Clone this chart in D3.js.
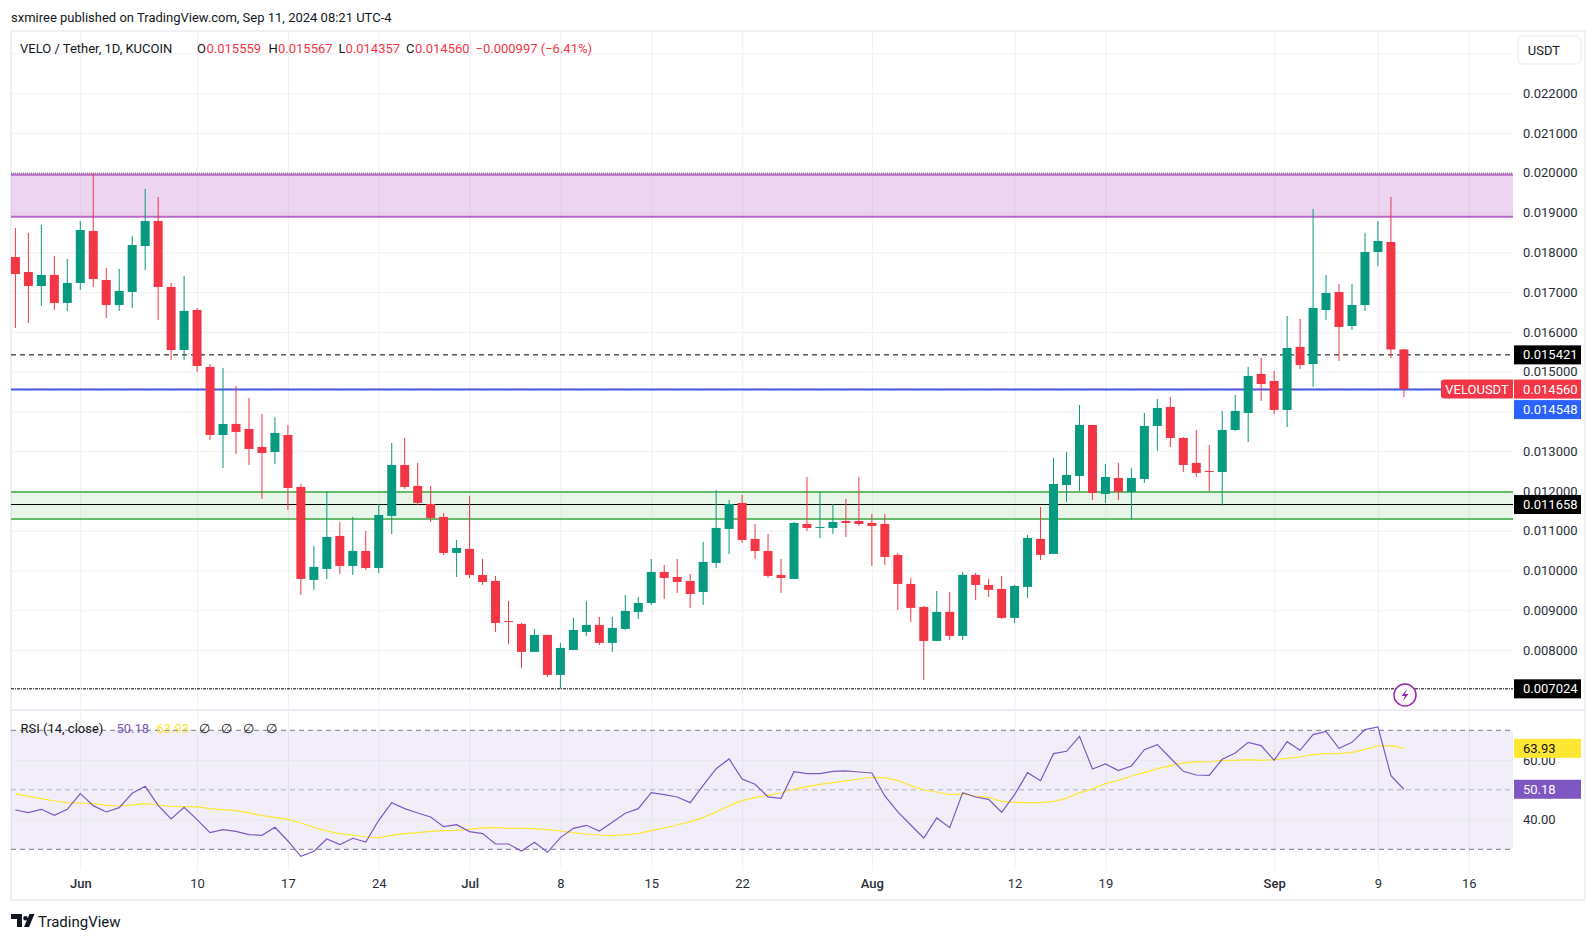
<!DOCTYPE html>
<html>
<head>
<meta charset="utf-8">
<script src="https://cdn.jsdelivr.net/npm/d3@7"></script>
<style>
html, body { margin: 0; padding: 0; background: #fff; }
svg { display: block; }
text { font-family: Roboto, "Noto Sans", sans-serif; }
</style>
</head>
<body>
<script>
// prices are in millionths of USDT, one entry per day from May 27 2024
var opens = [17882,17505,17153,17430,16726,17229,18536,17304,16676,17003,18159,18787,17128,15544,16550,15117,13407,13684,13558,13105,
    12980,13407,12100,9762,10038,10868,10114,10491,10063,11371,12653,12125,11672,11346,10441,10541,9887,9737,8731,8656,
    7952,8379,7373,8002,8454,8630,8178,8530,8957,9183,9962,9837,9736,9460,10189,11044,11697,10792,10490,9887,
    9787,11169,11069,11069,11245,11245,11194,11170,10390,9661,9083,8228,8958,8354,9888,9636,9536,8807,9586,10793,
    10416,12150,12377,13659,11924,12326,11974,12301,13634,14111,13332,12703,12502,12477,13533,13960,14941,14765,14036,15620,
    15192,16550,17002,16147,16675,18008,18259,15559];
var highs = [18611,18486,18687,17908,17832,18787,19986,17606,17581,18410,19592,19391,17229,17405,16600,15192,15092,14639,14338,13935,
    13860,13659,12175,10617,11999,11220,11346,10994,11672,13206,13332,12703,12125,11446,10767,11874,10290,9862,9234,8681,
    8530,8379,8178,8806,9233,8831,8831,9384,9334,10289,10138,10289,9912,10717,12024,11773,11898,11169,10918,10289,
    11219,12351,11974,11672,11798,12351,11421,11421,10441,9812,9108,9485,9460,9963,9938,9787,9863,9636,10893,11597,
    12829,12980,14161,13659,12678,12703,12578,13960,14312,14363,13357,13533,13156,14011,14413,15117,15343,15016,16399,16324,
    19089,17430,17203,17203,18486,18787,19391,15567];
var lows = [16097,16223,16651,16550,16525,17053,17128,16349,16525,16600,17556,16299,15293,15293,14991,13281,12577,12929,12653,11798,
    12678,11522,9385,9510,9787,9913,9887,10013,9938,10918,12050,11647,11220,10390,9837,9812,9636,8455,8153,7549,
    7952,7323,7024,8002,8354,8127,7951,8504,8781,9133,9284,9435,9057,9133,10063,10415,10692,10289,9812,9435,
    9787,10993,10817,10918,10842,11119,10113,10139,9008,8706,7248,8228,8254,8254,9259,9335,8781,8681,9310,10265,
    10416,11723,12000,11773,11698,11773,11270,12201,13005,13106,12477,12351,11999,11630,13508,13231,14262,13935,13608,15066,
    14614,16298,15268,16047,16525,17656,15343,14357];
var closes = [17455,17153,17430,16726,17229,18561,17329,16676,17028,18184,18787,17128,15544,16525,15142,13407,13684,13483,13055,12955,
    13457,12075,9787,10089,10843,10114,10491,10063,11396,12653,12100,11698,11320,10441,10566,9887,9711,8681,8706,7952,
    8379,7374,8052,8504,8630,8178,8555,8982,9183,9962,9812,9711,9409,10214,11069,11672,10767,10490,9862,9812,
    11194,11069,11094,11219,11194,11169,11119,10340,9661,9058,8228,8958,8354,9888,9636,9511,8807,9611,10818,10391,
    12175,12402,13659,11949,12351,11974,12326,13634,14086,13332,12653,12452,12486,13533,14011,14891,14689,14036,15594,15167,
    16600,16977,16122,16675,18008,18284,15557,14560];

var rsi = [43.22,42.32,43.44,41.43,43.44,48.71,44.68,42.55,44.00,48.82,51.17,44.79,40.19,44.12,39.97,35.60,36.61,36.05,34.93,34.70,
    37.39,32.80,27.65,29.33,33.47,31.57,33.70,32.46,39.75,45.68,43.67,42.21,40.87,37.62,38.29,35.94,35.26,31.79,31.79,29.44,
    32.35,28.99,33.92,37.06,38.07,36.16,39.07,42.10,43.67,49.04,48.37,47.59,45.68,51.51,57.11,60.36,53.64,51.85,47.59,47.14,
    56.10,55.43,55.43,56.22,56.33,55.99,55.66,47.92,42.55,38.18,33.81,40.53,37.28,49.04,47.59,46.80,42.44,48.37,55.77,53.08,
    62.15,62.94,67.98,57.00,58.68,56.44,58.01,63.50,65.18,60.70,56.22,54.98,54.87,60.25,62.38,65.96,64.84,59.91,66.19,63.27,
    68.54,69.66,63.95,65.96,70.22,71.12,54.76,50.18];
var rsiMa = [48.60,47.81,47.03,46.24,45.68,45.57,45.35,44.79,44.56,44.90,45.35,44.90,44.45,44.34,44.23,43.67,43.33,43.00,42.32,41.31,
    40.75,40.08,38.85,37.39,36.16,35.26,34.81,34.14,33.92,34.70,35.26,35.60,36.05,36.27,36.39,36.72,37.17,37.28,37.06,37.06,
    36.95,36.61,36.16,35.60,35.15,34.81,34.59,34.93,35.26,36.27,37.17,38.18,39.30,40.75,42.55,44.68,46.36,47.48,48.15,48.93,
    50.17,51.06,51.85,52.41,52.97,53.64,54.20,54.09,53.08,51.40,49.94,49.27,48.37,48.60,47.92,47.48,46.13,45.80,45.68,45.68,
    46.13,47.14,49.04,50.28,52.07,53.19,54.65,55.77,57.11,58.12,59.02,59.46,59.35,59.91,59.91,60.14,59.91,60.14,60.59,61.03,
    61.82,62.15,62.15,62.60,63.61,64.73,64.84,63.93];

var priceTicks = [8000,9000,10000,11000,12000,13000,14000,15000,16000,17000,18000,19000,20000,21000,22000];
var priceGrid = [8000,9000,10000,11000,12000,13000,14000,15000,16000,17000,18000,19000,20000,21000,22000,23000];
var rsiTicks = [40,60];
var timeTicks = ["2024-06-01","2024-06-10","2024-06-17","2024-06-24","2024-07-01","2024-07-08","2024-07-15","2024-07-22",
    "2024-08-01","2024-08-12","2024-08-19","2024-09-01","2024-09-09","2024-09-16"];
var timeLabels = ["Jun","10","17","24","Jul","8","15","22","Aug","12","19","Sep","9","16"];

var purpleZone = [18896, 19952];
var greenZone = [11295, 11974];
var lastClose = 14560, blueLevel = 14548, dashedLevel = 15421, supportLevel = 11658, lowLevel = 7024;

var red = "#F23645", green = "#089981";
var grid = "#F0F0F4", textColor = "#2a2e39";

var left = 11, right = 1513, frameRight = 1585, top_ = 31, paneBottom = 710, rsiBottom = 870, frameBottom = 900;

var dates = d3.utcDay.range(new Date("2024-05-27"), new Date("2024-09-12"));
var tickDates = timeTicks.map(function(d) { return new Date(d); });

var x = d3.scaleUtc()
    .domain([dates[0], dates[dates.length - 1]])
    .range([15.4, 1403.9]);

var y = d3.scaleLinear()
    .domain([8000, 18000])
    .range([650, 252.3]);

var yRsi = d3.scaleLinear()
    .domain([30, 70])
    .range([849.3, 730.3]);

var fmtPrice = function(d) { return (d / 1e6).toFixed(6); };

var svg = d3.select("body").append("svg")
    .attr("width", 1596)
    .attr("height", 941);

svg.append("rect").attr("width", 1596).attr("height", 941).attr("fill", "#fff");

// frame and pane separator
svg.append("rect")
    .attr("x", left).attr("y", top_)
    .attr("width", frameRight - left).attr("height", frameBottom - top_)
    .attr("fill", "none").attr("stroke", "#F0F0F6").attr("stroke-width", 2);
svg.append("line")
    .attr("x1", left).attr("x2", frameRight)
    .attr("y1", paneBottom).attr("y2", paneBottom)
    .attr("stroke", "#E6E3EE").attr("stroke-width", 1.5);

// grid
var gridX = d3.axisBottom(x).tickValues(tickDates).tickSize(rsiBottom - top_).tickFormat("");
svg.append("g").attr("transform", "translate(0," + top_ + ")").call(gridX)
    .call(function(g) { g.select(".domain").remove(); })
    .selectAll("line").attr("stroke", grid);

var gridY = d3.axisRight(y).tickValues(priceGrid).tickSize(right - left).tickFormat("");
svg.append("g").attr("transform", "translate(" + left + ",0)").call(gridY)
    .call(function(g) { g.select(".domain").remove(); })
    .selectAll("line").attr("stroke", grid);

// purple and green zones
function zone(vals, fill, stroke) {
    svg.append("rect")
        .attr("x", left).attr("width", right - left)
        .attr("y", y(vals[1])).attr("height", y(vals[0]) - y(vals[1]))
        .attr("fill", fill);
    vals.forEach(function(v) {
        svg.append("line")
            .attr("x1", left).attr("x2", right)
            .attr("y1", y(v)).attr("y2", y(v))
            .attr("stroke", stroke).attr("stroke-width", 2);
    });
}
zone(purpleZone, "rgba(186,104,200,0.28)", "#BA68C8");
zone(greenZone, "rgba(102,187,106,0.15)", "#66BB6A");

svg.append("line")
    .attr("x1", left).attr("x2", right)
    .attr("y1", y(purpleZone[1]) - 1.5).attr("y2", y(purpleZone[1]) - 1.5)
    .attr("stroke", "#555").attr("stroke-dasharray", "1,1");

// horizontal levels
function level(v, dash) {
    svg.append("line")
        .attr("x1", left).attr("x2", right)
        .attr("y1", y(v)).attr("y2", y(v))
        .attr("stroke", "#000")
        .attr("stroke-dasharray", dash)
        .attr("stroke-width", 1);
}
level(dashedLevel, "5,4");
level(supportLevel, null);
level(lowLevel, "3,1,1,1");

svg.append("line")
    .attr("x1", left).attr("x2", 1441)
    .attr("y1", y(blueLevel)).attr("y2", y(blueLevel))
    .attr("stroke", "#2962FF").attr("stroke-width", 2);
svg.append("line")
    .attr("x1", left).attr("x2", 1441)
    .attr("y1", y(lastClose)).attr("y2", y(lastClose))
    .attr("stroke", red).attr("stroke-dasharray", "1,2");

// candles
var candles = svg.append("g").selectAll("g")
    .data(dates)
    .enter().append("g");

candles.append("line")
    .attr("x1", function(d) { return x(d); })
    .attr("x2", function(d) { return x(d); })
    .attr("y1", function(d, i) { return y(highs[i]); })
    .attr("y2", function(d, i) { return y(lows[i]); })
    .attr("stroke", function(d, i) { return closes[i] >= opens[i] ? green : red; })
    .attr("stroke-width", 1);

candles.append("rect")
    .attr("x", function(d) { return x(d) - 4.5; })
    .attr("width", 9)
    .attr("y", function(d, i) { return y(Math.max(opens[i], closes[i])); })
    .attr("height", function(d, i) { return Math.max(1, Math.abs(y(opens[i]) - y(closes[i]))); })
    .attr("fill", function(d, i) { return closes[i] >= opens[i] ? green : red; });

// price axis
var axisY = d3.axisRight(y).tickValues(priceTicks).tickSize(0).tickPadding(0).tickFormat(fmtPrice);
svg.append("g").attr("transform", "translate(1523,0)").call(axisY)
    .call(function(g) { g.select(".domain").remove(); })
    .selectAll("text")
    .attr("font-family", "Roboto").attr("font-size", 13).attr("fill", textColor);

function priceLabel(v, scale, bg, fg, txt) {
    var yy = scale(v);
    svg.append("rect")
        .attr("x", 1514).attr("y", yy - 9.5)
        .attr("width", 67).attr("height", 19)
        .attr("fill", bg);
    svg.append("text")
        .attr("x", 1523).attr("y", yy + 4.5)
        .attr("font-size", 13).attr("fill", fg)
        .text(txt);
}
priceLabel(dashedLevel, y, "#000", "#fff", fmtPrice(dashedLevel));
priceLabel(supportLevel, y, "#000", "#fff", fmtPrice(supportLevel));
priceLabel(lowLevel, y, "#000", "#fff", fmtPrice(lowLevel));
priceLabel(blueLevel, function(v) { return y(v) + 20; }, "#2962FF", "#fff", fmtPrice(blueLevel));
priceLabel(lastClose, y, red, "#fff", fmtPrice(lastClose));

svg.append("path")
    .attr("d", "M1513," + (y(lastClose) - 9.5) + "H1444a3,3 0 0 0 -3,3V" + (y(lastClose) + 6.5) + "a3,3 0 0 0 3,3H1513Z")
    .attr("fill", red);
svg.append("text")
    .attr("x", 1477).attr("y", y(lastClose) + 4.5)
    .attr("text-anchor", "middle")
    .attr("font-size", 13).attr("fill", "#fff")
    .text("VELOUSDT");

// USDT box
svg.append("rect")
    .attr("x", 1518).attr("y", 36).attr("width", 63).attr("height", 28).attr("rx", 5)
    .attr("fill", "#fff").attr("stroke", "#F0F0F6").attr("stroke-width", 1.5);
svg.append("text")
    .attr("x", 1544).attr("y", 54.5).attr("text-anchor", "middle")
    .attr("font-size", 13).attr("fill", "#131722").text("USDT");

// lightning marker
svg.append("circle")
    .attr("cx", 1405).attr("cy", 695).attr("r", 11)
    .attr("fill", "#fff").attr("stroke", "#9C27B0").attr("stroke-width", 1.5);
svg.append("path")
    .attr("d", "M1407,689L1401.5,696H1405L1403,701L1408.5,694H1405Z")
    .attr("fill", "#9C27B0");

// rsi pane
svg.append("rect")
    .attr("x", left).attr("width", right - left)
    .attr("y", yRsi(70)).attr("height", yRsi(30) - yRsi(70))
    .attr("fill", "rgba(126,87,194,0.1)");

var gridRsi = d3.axisRight(yRsi).tickValues(rsiTicks).tickSize(right - left).tickFormat("");
svg.append("g").attr("transform", "translate(" + left + ",0)").call(gridRsi)
    .call(function(g) { g.select(".domain").remove(); })
    .selectAll("line").attr("stroke", "#E8E6F0");

[[70, "#787B86"], [50, "#B0AEBB"], [30, "#787B86"]].forEach(function(b) {
    svg.append("line")
        .attr("x1", left).attr("x2", right)
        .attr("y1", yRsi(b[0])).attr("y2", yRsi(b[0]))
        .attr("stroke", b[1]).attr("stroke-dasharray", "5,4");
});

var lineRsi = d3.line()
    .x(function(d, i) { return x(dates[i]); })
    .y(function(d) { return yRsi(d); });

svg.append("path").datum(rsiMa).attr("d", lineRsi)
    .attr("fill", "none").attr("stroke", "#FDE732").attr("stroke-width", 1.2);
svg.append("path").datum(rsi).attr("d", lineRsi)
    .attr("fill", "none").attr("stroke", "#7E57C2").attr("stroke-width", 1.2);

var axisRsi = d3.axisRight(yRsi).tickValues(rsiTicks).tickSize(0).tickPadding(0)
    .tickFormat(function(d) { return d.toFixed(2); });
svg.append("g").attr("transform", "translate(1523,0)").call(axisRsi)
    .call(function(g) { g.select(".domain").remove(); })
    .selectAll("text")
    .attr("font-family", "Roboto").attr("font-size", 13).attr("fill", textColor);

priceLabel(rsiMa[rsiMa.length - 1], yRsi, "#FDE732", "#131722", rsiMa[rsiMa.length - 1].toFixed(2));
priceLabel(rsi[rsi.length - 1], yRsi, "#7E57C2", "#fff", rsi[rsi.length - 1].toFixed(2));

// time axis
var axisX = d3.axisBottom(x).tickValues(tickDates).tickSize(0).tickPadding(0)
    .tickFormat(function(d, i) { return timeLabels[i]; });
svg.append("g").attr("transform", "translate(0,879)").call(axisX)
    .call(function(g) { g.select(".domain").remove(); })
    .selectAll("text")
    .attr("font-family", "Roboto").attr("font-size", 13).attr("fill", textColor)
    .attr("font-weight", function(d, i) { return isNaN(+timeLabels[i]) ? 500 : 400; });

// titles and legends
function label(xx, yy, txt, color, size) {
    svg.append("text")
        .attr("x", xx).attr("y", yy)
        .attr("font-size", size || 13)
        .attr("fill", color)
        .text(txt);
}
label(11, 22, "sxmiree published on TradingView.com, Sep 11, 2024 08:21 UTC-4", "#131722", 13);
label(20, 53, "VELO / Tether, 1D, KUCOIN", "#131722", 13);
label(197, 53, "O", "#131722");
label(206.5, 53, fmtPrice(opens[opens.length - 1]), red);
label(268.5, 53, "H", "#131722");
label(278, 53, fmtPrice(highs[highs.length - 1]), red);
label(338.5, 53, "L", "#131722");
label(345.5, 53, fmtPrice(lows[lows.length - 1]), red);
label(406, 53, "C", "#131722");
label(415, 53, fmtPrice(closes[closes.length - 1]), red);
label(475.5, 53, "\u22120.000997 (\u22126.41%)", red);

label(20.5, 733, "RSI (14, close)", "#131722");
label(116.5, 733, rsi[rsi.length - 1].toFixed(2), "#7E57C2");
label(156.5, 733, rsiMa[rsiMa.length - 1].toFixed(2), "#FDE732");
[199, 221, 243, 265.5].forEach(function(xx) { label(xx, 733, "\u2205", "#131722"); });

// TradingView logo
svg.append("path")
    .attr("d", "M11,914H22V927H17V919H11ZM31,914a2.5,2.5 0 1 1 0,5a2.5,2.5 0 1 1 0,-5ZM24,927L29.5,914H34.5L29,927Z".replace("M31,914a2.5,2.5 0 1 1 0,5a2.5,2.5 0 1 1 0,-5Z", "M25.5,916a2.3,2.3 0 1 1 0,4.6a2.3,2.3 0 1 1 0,-4.6Z"))
    .attr("fill", "#131722");
label(38, 926.5, "TradingView", "#131722", 15);
</script>
</body>
</html>
